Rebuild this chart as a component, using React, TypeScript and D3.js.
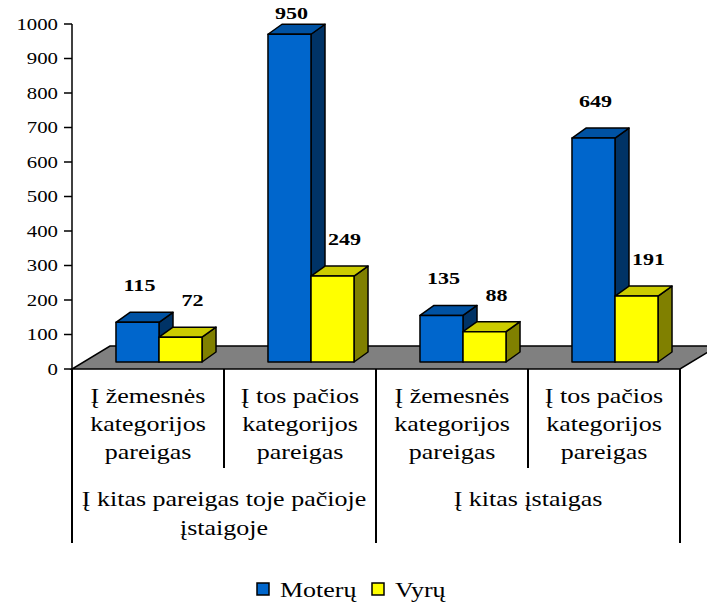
import * as d3 from 'd3'

const categories = [
  ['Į žemesnės', 'kategorijos', 'pareigas'],
  ['Į tos pačios', 'kategorijos', 'pareigas'],
  ['Į žemesnės', 'kategorijos', 'pareigas'],
  ['Į tos pačios', 'kategorijos', 'pareigas'],
]
const groups = [
  ['Į kitas pareigas toje pačioje', 'įstaigoje'],
  ['Į kitas įstaigas'],
]
const seriesNames = ['Moterų', 'Vyrų']
const moteru = [115, 950, 135, 649]
const vyru = [72, 249, 88, 191]
const yTicks = [0, 100, 200, 300, 400, 500, 600, 700, 800, 900, 1000]

const W = 707
const H = 604
const SX = 1.3 // the original text is stretched horizontally
const FONT = 'Liberation Serif'

// face colours: front, top, side
const palette = [
  { front: '#0066CC', top: '#0052A3', side: '#003366' },
  { front: '#FFFF00', top: '#CCCC00', side: '#808000' },
]

function Txt({ x, y, size, anchor = 'middle', bold = false, children }: any) {
  return (
    <text
      transform={`translate(${x},${y}) scale(${SX},1)`}
      fontFamily={FONT}
      fontSize={size}
      fontWeight={bold ? 700 : 400}
      textAnchor={anchor}
      fill="#000"
    >
      {children}
    </text>
  )
}

export default function App() {
  const left = 72
  const right = 680
  const floorY = 369
  const floorDx = 38
  const floorDy = 23
  const baseDx = 11 // bars stand a bit inside the floor
  const baseDy = 7
  const depthDx = 14
  const depthDy = 10

  const y = d3.scaleLinear().domain([0, 1000]).range([floorY, 24])
  const x0 = d3.scaleBand<number>().domain(d3.range(categories.length)).range([left, right])
  const bw = x0.bandwidth()
  const x1 = d3.scaleBand<number>().domain([0, 1]).range([bw * 0.217, bw * 0.783])

  const series = [moteru, vyru]

  const bars: any[] = []
  const labels: any[] = []
  categories.forEach((_, i) => {
    series.forEach((vals, s) => {
      const v = vals[i]
      const c = palette[s]
      const xl = (x0(i) as number) + (x1(s) as number) + baseDx
      const xr = xl + x1.bandwidth()
      const yb = floorY - baseDy
      const yt = y(v) - baseDy
      bars.push(
        <g key={`b${i}-${s}`} stroke="#000" strokeWidth={1.5} strokeLinejoin="round">
          <polygon
            points={`${xr},${yt} ${xr + depthDx},${yt - depthDy} ${xr + depthDx},${yb - depthDy} ${xr},${yb}`}
            fill={c.side}
          />
          <polygon
            points={`${xl},${yt} ${xl + depthDx},${yt - depthDy} ${xr + depthDx},${yt - depthDy} ${xr},${yt}`}
            fill={c.top}
          />
          <rect x={xl} y={yt} width={xr - xl} height={yb - yt} fill={c.front} />
        </g>
      )
      const ly = Math.max(yt - depthDy - 27, 13)
      labels.push(
        <Txt key={`l${i}-${s}`} x={(xl + xr) / 2 + (s === 0 ? 2 : 12)} y={ly + 6} size={17} bold>
          {v}
        </Txt>
      )
    })
  })

  const rowTop = floorY
  const row1End = 468
  const row2End = 543

  return (
    <svg width={W} height={H} style={{ position: 'absolute', left: 0, top: 0, background: '#fff' }}>
      {/* floor */}
      <polygon
        points={`${left},${floorY} ${right},${floorY} ${right + floorDx},${floorY - floorDy} ${left + floorDx},${floorY - floorDy}`}
        fill="#808080"
        stroke="#000"
        strokeWidth={1.5}
      />

      {/* y axis */}
      <line x1={left} x2={left} y1={y(1000)} y2={floorY} stroke="#000" strokeWidth={1.5} />
      {yTicks.map((t) => (
        <g key={t}>
          <line x1={left - 8} x2={left} y1={y(t)} y2={y(t)} stroke="#000" strokeWidth={1.5} />
          <Txt x={58} y={y(t) + 5.5} size={16} anchor="end">
            {t}
          </Txt>
        </g>
      ))}

      {bars}
      {labels}

      {/* category table */}
      {d3.range(categories.length + 1).map((i) => {
        const xx = i < categories.length ? (x0(i) as number) : right
        const long = i % 2 === 0
        return (
          <line
            key={`v${i}`}
            x1={xx}
            x2={xx}
            y1={rowTop}
            y2={long ? row2End : row1End}
            stroke="#000"
            strokeWidth={2}
          />
        )
      })}
      {categories.map((lines, i) =>
        lines.map((ln, j) => (
          <Txt key={`c${i}-${j}`} x={(x0(i) as number) + bw / 2} y={403 + j * 28} size={20}>
            {ln}
          </Txt>
        ))
      )}
      {groups.map((lines, g) =>
        lines.map((ln, j) => (
          <Txt key={`g${g}-${j}`} x={(x0(g * 2) as number) + bw} y={506 + j * 29} size={20}>
            {ln}
          </Txt>
        ))
      )}

      {/* legend */}
      {seriesNames.map((name, s) => {
        const lx = s === 0 ? 257 : 372
        return (
          <g key={name}>
            <rect x={lx} y={583} width={12} height={12} fill={palette[s].front} stroke="#000" strokeWidth={1.5} />
            <Txt x={lx + 23} y={597} size={20} anchor="start">
              {name}
            </Txt>
          </g>
        )
      })}
    </svg>
  )
}
